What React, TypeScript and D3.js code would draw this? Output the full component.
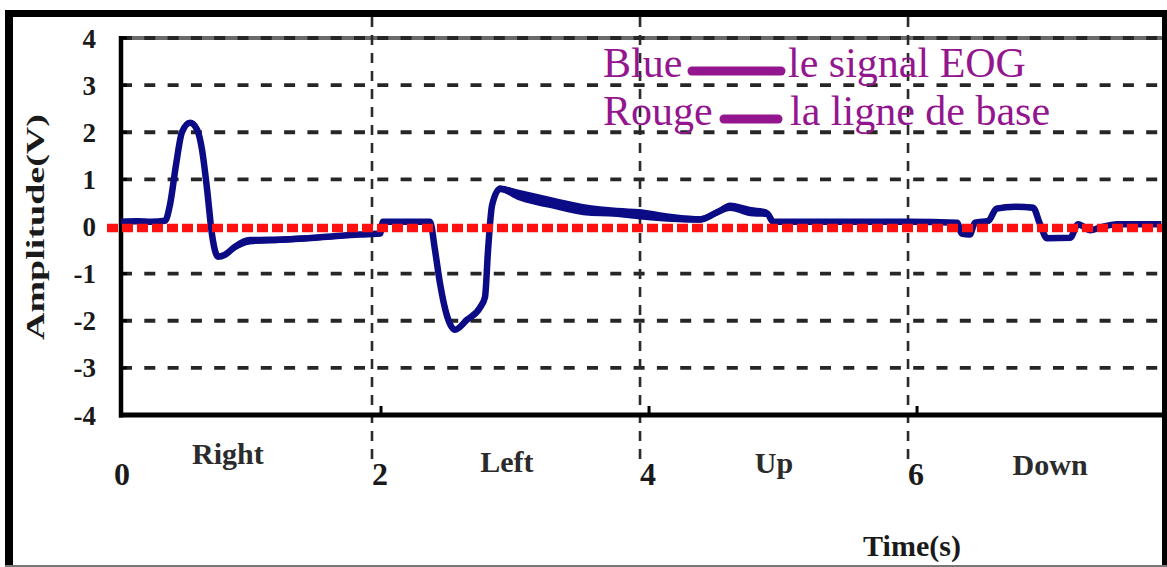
import React from "react";
import * as d3 from "d3";

// ---------------- data ----------------
const yTickValues = [4, 3, 2, 1, 0, -1, -2, -3, -4];
const yGridValues = [3, 2, 1, -1, -2, -3];
const xTickValues = [0, 2, 4, 6, 8];
const xTickLabels = ["0", "2", "4", "6", "8"];
const xGridValues = [2, 4, 6];

const movementLabels = ["Right", "Left", "Up", "Down"];
const movementCenters = [0.925, 3.007, 5.0, 7.06];

// EOG signal (time in s, amplitude in V, visible noise half-band in V)
const eogTime = [
  0.127, 0.25, 0.35, 0.455, 0.493, 0.537, 0.582, 0.642, 0.694, 0.731, 0.769, 0.806,
  0.851, 0.903, 0.978, 1.09, 1.313, 1.612, 1.91, 2.06, 2.082, 2.3, 2.433, 2.47,
  2.507, 2.56, 2.619, 2.709, 2.806, 2.843, 2.866, 2.896, 2.955, 3.082, 3.328, 3.575,
  3.828, 4.0, 4.201, 4.448, 4.575, 4.672, 4.821, 4.948, 4.993, 5.045, 5.6, 6.0,
  6.366, 6.4, 6.46, 6.5, 6.6, 6.66, 6.8, 6.933, 6.985, 7.037, 7.209, 7.269,
  7.36, 7.433, 7.56, 7.89,
];
const eogValue = [
  0.1, 0.11, 0.1, 0.12, 0.47, 1.3, 2.0, 2.2, 2.06, 1.64, 0.8, -0.17,
  -0.64, -0.6, -0.43, -0.3, -0.28, -0.23, -0.17, -0.15, 0.1, 0.1, 0.1, -0.5,
  -1.2, -1.9, -2.19, -1.98, -1.72, -1.5, -0.5, 0.45, 0.8, 0.68, 0.51, 0.36,
  0.3, 0.26, 0.19, 0.15, 0.3, 0.42, 0.32, 0.28, 0.1, 0.1, 0.1, 0.1,
  0.08, -0.15, -0.17, 0.08, 0.12, 0.38, 0.42, 0.4, 0.05, -0.25, -0.24, 0.05,
  -0.08, -0.02, 0.05, 0.05,
];
const eogSpread = [
  0.03, 0.03, 0.03, 0.03, 0.01, 0.01, 0.02, 0.04, 0.02, 0.01, 0.01, 0.01,
  0.04, 0.05, 0.08, 0.08, 0.07, 0.06, 0.05, 0.04, 0.03, 0.02, 0.02, 0.02,
  0.02, 0.03, 0.05, 0.06, 0.07, 0.04, 0.02, 0.03, 0.07, 0.11, 0.12, 0.12,
  0.1, 0.11, 0.09, 0.07, 0.07, 0.09, 0.1, 0.08, 0.03, 0.02, 0.02, 0.02,
  0.02, 0.02, 0.02, 0.02, 0.02, 0.06, 0.06, 0.06, 0.02, 0.04, 0.04, 0.02,
  0.03, 0.03, 0.02, 0.02,
];
const baselineValue = 0;

const legendNames = ["Blue", "Rouge"];
const legendDescriptions = ["le signal EOG", "la ligne de base"];

const yAxisTitle = "Amplitude(V)";
const xAxisTitle = "Time(s)";

// ---------------- layout ----------------
const W = 1167;
const H = 567;
const plotLeft = 121;
const plotRight = 1162;
const plotTop = 38;
const plotBottom = 415;

const SERIF = "'Liberation Serif', 'Times New Roman', 'DejaVu Serif', serif";
const BLUE = "#0b0b86";
const RED = "#ff1010";
const PURPLE = "#93168f";
const INK = "#1a1a1a";

export default function App() {
  const x = d3.scaleLinear().domain([0.127, 7.895]).range([plotLeft, plotRight]);
  const y = d3.scaleLinear().domain([-4, 4]).range([plotBottom, plotTop]);

  const pts = eogTime.map((t, i) => ({ t, v: eogValue[i], s: eogSpread[i] }));
  type P = { t: number; v: number; s: number };

  const line = d3
    .line<P>()
    .x((d) => x(d.t))
    .y((d) => y(d.v))
    .curve(d3.curveMonotoneX);
  const band = d3
    .area<P>()
    .x((d) => x(d.t))
    .y0((d) => y(d.v - d.s))
    .y1((d) => y(d.v + d.s))
    .curve(d3.curveMonotoneX);

  const categoryBaselines = [464, 472, 473, 475];

  return (
    <svg
      width={W}
      height={H}
      viewBox={`0 0 ${W} ${H}`}
      style={{ position: "fixed", left: 0, top: 0, background: "#fff" }}
    >
      <defs>
        <clipPath id="plotClip">
          <rect x={plotLeft - 16} y={plotTop - 6} width={plotRight - plotLeft + 16} height={plotBottom - plotTop + 12} />
        </clipPath>
      </defs>
      <rect x={0} y={0} width={W} height={H} fill="#fff" />

      {/* top box line */}
      <line x1={plotLeft} x2={plotRight} y1={y(4)} y2={y(4)} stroke="#6a6a6a" strokeWidth={4} />

      {/* horizontal grid */}
      {[4, ...yGridValues].map((v) => (
        <line
          key={"hg" + v}
          x1={plotLeft}
          x2={plotRight}
          y1={y(v)}
          y2={y(v)}
          stroke="#262626"
          strokeWidth={3.8}
          strokeDasharray="11 12.3"
        />
      ))}

      {/* vertical grid */}
      {xGridValues.map((v) => (
        <line
          key={"vg" + v}
          x1={x(v)}
          x2={x(v)}
          y1={17}
          y2={460}
          stroke="#2a2a2a"
          strokeWidth={2.6}
          strokeDasharray="10 8"
        />
      ))}

      {/* axes */}
      <line x1={plotLeft} x2={plotLeft} y1={plotTop - 2} y2={plotBottom + 2.5} stroke="#000" strokeWidth={4.5} />
      <line x1={plotLeft - 2} x2={plotRight} y1={plotBottom} y2={plotBottom} stroke="#000" strokeWidth={5} />

      {/* y ticks */}
      {yTickValues.map((v) => (
        <line key={"yt" + v} x1={plotLeft} x2={plotLeft + 6} y1={y(v)} y2={y(v)} stroke="#000" strokeWidth={3} />
      ))}
      {/* x ticks */}
      {xTickValues.slice(1, 4).map((v) => (
        <line key={"xt" + v} x1={x(v) + 9} x2={x(v) + 9} y1={plotBottom} y2={plotBottom - 9} stroke="#000" strokeWidth={3} />
      ))}

      {/* EOG signal */}
      <g clipPath="url(#plotClip)">
        <path d={band(pts) || ""} fill={BLUE} />
        <path d={line(pts) || ""} fill="none" stroke={BLUE} strokeWidth={6.5} strokeLinejoin="round" />
        {/* baseline */}
        <line
          x1={plotLeft - 14}
          x2={plotRight}
          y1={y(baselineValue) + 1.5}
          y2={y(baselineValue) + 1.5}
          stroke={RED}
          strokeWidth={8.5}
          strokeDasharray="11 4"
        />
      </g>

      {/* y tick labels */}
      {yTickValues.map((v) => (
        <text
          key={"yl" + v}
          x={96}
          y={y(v) + 9.5}
          textAnchor="end"
          fontFamily={SERIF}
          fontWeight="bold"
          fontSize={27}
          fill={INK}
        >
          {v < 0 ? "-" + Math.abs(v) : String(v)}
        </text>
      ))}

      {/* x tick labels */}
      {xTickValues.map((v, i) => (
        <text
          key={"xl" + v}
          x={Math.max(x(v) + 8, plotLeft + 1)}
          y={485}
          textAnchor="middle"
          fontFamily={SERIF}
          fontWeight="bold"
          fontSize={32}
          fill={INK}
        >
          {xTickLabels[i]}
        </text>
      ))}

      {/* movement labels */}
      {movementLabels.map((m, i) => (
        <text
          key={m}
          x={x(movementCenters[i])}
          y={categoryBaselines[i]}
          textAnchor="middle"
          fontFamily={SERIF}
          fontWeight="bold"
          fontSize={30}
          fill="#2b2b2b"
        >
          {m}
        </text>
      ))}

      {/* axis titles */}
      <text
        x={912}
        y={556}
        textAnchor="middle"
        fontFamily={SERIF}
        fontWeight="bold"
        fontSize={30}
        fill={INK}
      >
        {xAxisTitle}
      </text>
      <text
        transform="translate(44,227) rotate(-90)"
        textAnchor="middle"
        fontFamily={SERIF}
        fontWeight="bold"
        fontSize={26}
        textLength={226}
        lengthAdjust="spacingAndGlyphs"
        fill={INK}
      >
        {yAxisTitle}
      </text>

      {/* legend */}
      <g fontFamily={SERIF} fontSize={42} fill={PURPLE}>
        <text x={603} y={77}>{legendNames[0]}</text>
        <line x1={692} x2={781} y1={71} y2={71} stroke={PURPLE} strokeWidth={9} strokeLinecap="round" />
        <text x={788} y={77}>{legendDescriptions[0]}</text>
        <text x={603} y={125}>{legendNames[1]}</text>
        <line x1={724} x2={778} y1={119} y2={119} stroke={PURPLE} strokeWidth={9} strokeLinecap="round" />
        <text x={790} y={125}>{legendDescriptions[1]}</text>
      </g>

      {/* outer frame */}
      <rect x={5} y={10} width={W - 5} height={7} fill="#000" />
      <rect x={5} y={10} width={8} height={H - 10} fill="#000" />
      <rect x={1162} y={10} width={5} height={H - 10} fill="#000" />
      <rect x={5} y={565} width={W - 5} height={2} fill="#777" />
    </svg>
  );
}
